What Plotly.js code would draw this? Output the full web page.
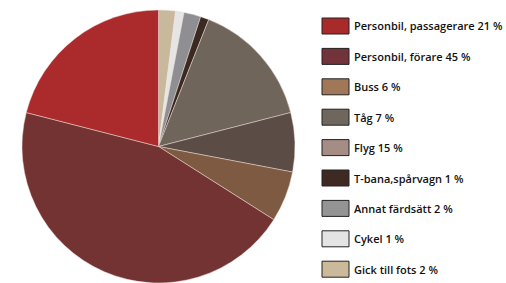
<!DOCTYPE html>
<html>
<head>
<meta charset="utf-8">
<script src="https://cdn.plot.ly/plotly-3.0.1.min.js"></script>
<style>html,body{margin:0;padding:0;background:#fff}#chart{width:506px;height:283px}</style>
</head>
<body>
<div id="chart"></div>
<script>
var labels = ["Personbil, passagerare", "Personbil, förare", "Buss", "Tåg", "Flyg", "T-bana,spårvagn", "Annat färdsätt", "Cykel", "Gick till fots"];
var values = [21, 45, 6, 7, 15, 1, 2, 1, 2];
var sliceColors = ["#ab2a2b", "#733333", "#7e5a42", "#5b4c45", "#6f655a", "#3b2a22", "#8f8f93", "#e5e5e5", "#c8b89c"];
var legendColors = ["#a82a2b", "#73333a", "#a07858", "#6f675e", "#a48d85", "#3e2a22", "#949494", "#e4e4e4", "#cbb99c"];

var W = 506, H = 283;
var shapes = [], annotations = [];
var rowTop = 26, rowStep = 30.4;
for (var i = 0; i < labels.length; i++) {
  var cy = rowTop + i * rowStep;
  shapes.push({
    type: "rect", xref: "paper", yref: "paper",
    x0: 322 / W, x1: 349 / W,
    y0: (H - (cy - 8)) / H, y1: (H - (cy + 8)) / H,
    fillcolor: legendColors[i],
    line: {color: "#222", width: 1}
  });
  annotations.push({
    xref: "paper", yref: "paper", x: 352 / W, y: (H - cy) / H,
    xanchor: "left", yanchor: "middle", showarrow: false,
    text: labels[i] + " " + values[i] + " %",
    font: {family: "Open Sans", size: 11, color: "#111", weight: 600}
  });
}

// Slices run counterclockwise from 12 o'clock: draw reversed order clockwise.
var trace = {
  type: "pie",
  labels: labels.slice().reverse(),
  values: values.slice().reverse(),
  sort: false,
  direction: "clockwise",
  rotation: 0,
  textinfo: "none",
  hoverinfo: "none",
  showlegend: false,
  marker: {colors: sliceColors.slice().reverse(), line: {color: "rgba(240,225,220,0.8)", width: 0.6}},
  domain: {x: [20 / W, 297 / W], y: [0, (H - 10) / H]}
};

Plotly.newPlot("chart", [trace], {
  width: W, height: H,
  margin: {l: 0, r: 0, t: 0, b: 0},
  paper_bgcolor: "#fff",
  shapes: shapes,
  annotations: annotations
}, {staticPlot: true});
</script>
</body>
</html>
